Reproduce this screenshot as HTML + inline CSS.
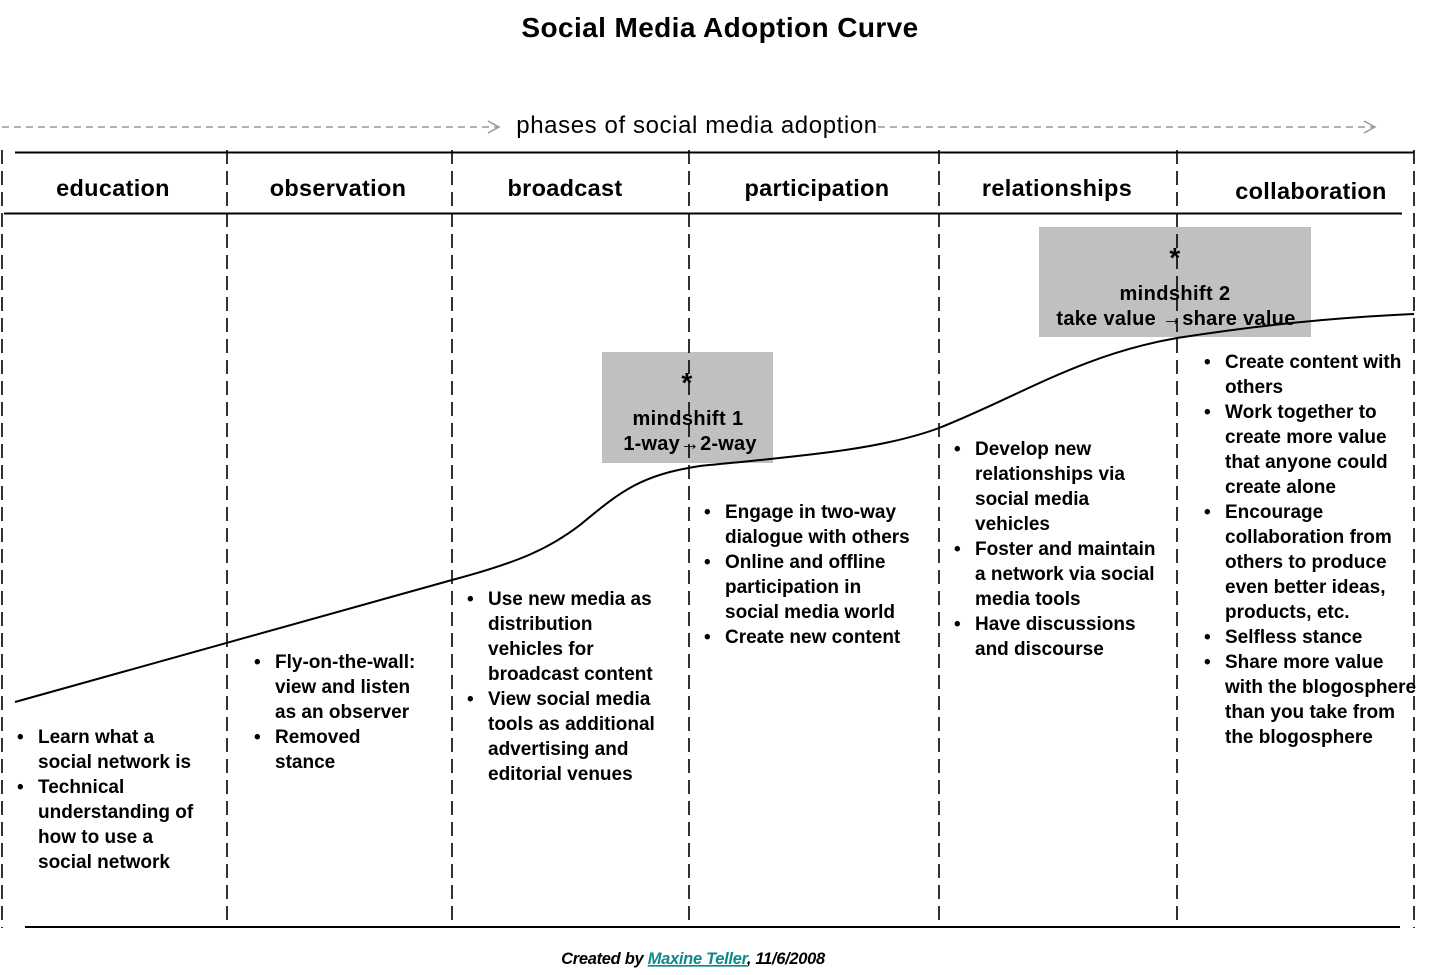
<!DOCTYPE html>
<html><head><meta charset="utf-8"><style>
html,body{margin:0;padding:0;background:#fff;}
svg{display:block;}
text{font-family:"Liberation Sans",Arial,sans-serif;font-weight:bold;fill:#000;}
.b{font-size:19px;letter-spacing:0px;}
.h{font-size:23.5px;letter-spacing:0.3px;text-anchor:middle;}
</style></head><body>
<svg width="1440" height="975" viewBox="0 0 1440 975" xmlns="http://www.w3.org/2000/svg">
<text x="720" y="37" class="h" style="font-size:28px;letter-spacing:0.4px">Social Media Adoption Curve</text>
<line x1="2" y1="127" x2="498" y2="127" stroke="#999" stroke-width="1.5" stroke-dasharray="7,5"/>
<polyline points="488,121 499,127 488,133" fill="none" stroke="#999" stroke-width="1.5"/>
<line x1="878" y1="127" x2="1374" y2="127" stroke="#999" stroke-width="1.5" stroke-dasharray="7,5"/>
<polyline points="1364,121 1375,127 1364,133" fill="none" stroke="#999" stroke-width="1.5"/>
<text x="697" y="133" class="h" style="font-weight:normal;font-size:24px;letter-spacing:0.6px">phases of social media adoption</text>
<rect x="602" y="352" width="171" height="111" fill="#c0c0c0"/>
<rect x="1039" y="227" width="272" height="110" fill="#c0c0c0"/>
<line x1="15" y1="152.5" x2="1414" y2="152.5" stroke="#000" stroke-width="2"/>
<line x1="4" y1="213.5" x2="1402" y2="213.5" stroke="#000" stroke-width="2"/>
<line x1="25" y1="927" x2="1400" y2="927" stroke="#000" stroke-width="2"/>
<g stroke="#000" stroke-width="1.6" stroke-dasharray="14,7">
<line x1="2" y1="150" x2="2" y2="928"/>
<line x1="227" y1="150" x2="227" y2="928"/>
<line x1="452" y1="150" x2="452" y2="928"/>
<line x1="689" y1="150" x2="689" y2="928"/>
<line x1="939" y1="150" x2="939" y2="928"/>
<line x1="1177" y1="150" x2="1177" y2="928"/>
<line x1="1414" y1="150" x2="1414" y2="928"/>
</g>
<text x="113" y="196" class="h">education</text>
<text x="338" y="196" class="h">observation</text>
<text x="565" y="196" class="h">broadcast</text>
<text x="817" y="196" class="h">participation</text>
<text x="1057" y="196" class="h">relationships</text>
<text x="1311" y="199" class="h">collaboration</text>
<path d="M15,702 L452,580 C520,562 550,548 580,525 C620,492 640,475 700,466 C800,456 880,450 939,428 C1020,396 1080,355 1177,338 C1260,325 1330,318 1414,314" fill="none" stroke="#000" stroke-width="2"/>
<text x="687" y="392" class="h" style="font-size:28px">*</text>
<text x="688" y="425" class="h" style="font-size:20px;letter-spacing:0.4px">mindshift 1</text>
<text x="690" y="450" class="h" style="font-size:20px;letter-spacing:0.2px">1-way→2-way</text>
<text x="1175" y="267" class="h" style="font-size:28px">*</text>
<text x="1175" y="300" class="h" style="font-size:20px;letter-spacing:0.4px">mindshift 2</text>
<text x="1176" y="325" class="h" style="font-size:20px;letter-spacing:0.3px">take value →share value</text>
<g class="b">
<text x="17" y="743">•</text><text x="38" y="743">Learn what a</text>
<text x="38" y="768">social network is</text>
<text x="17" y="793">•</text><text x="38" y="793">Technical</text>
<text x="38" y="818">understanding of</text>
<text x="38" y="843">how to use a</text>
<text x="38" y="868">social network</text>

<text x="254" y="668">•</text><text x="275" y="668">Fly-on-the-wall:</text>
<text x="275" y="693">view and listen</text>
<text x="275" y="718">as an observer</text>
<text x="254" y="743">•</text><text x="275" y="743">Removed</text>
<text x="275" y="768">stance</text>

<text x="467" y="605">•</text><text x="488" y="605">Use new media as</text>
<text x="488" y="630">distribution</text>
<text x="488" y="655">vehicles for</text>
<text x="488" y="680">broadcast content</text>
<text x="467" y="705">•</text><text x="488" y="705">View social media</text>
<text x="488" y="730">tools as additional</text>
<text x="488" y="755">advertising and</text>
<text x="488" y="780">editorial venues</text>

<text x="704" y="518">•</text><text x="725" y="518">Engage in two-way</text>
<text x="725" y="543">dialogue with others</text>
<text x="704" y="568">•</text><text x="725" y="568">Online and offline</text>
<text x="725" y="593">participation in</text>
<text x="725" y="618">social media world</text>
<text x="704" y="643">•</text><text x="725" y="643">Create new content</text>

<text x="954" y="455">•</text><text x="975" y="455">Develop new</text>
<text x="975" y="480">relationships via</text>
<text x="975" y="505">social media</text>
<text x="975" y="530">vehicles</text>
<text x="954" y="555">•</text><text x="975" y="555">Foster and maintain</text>
<text x="975" y="580">a network via social</text>
<text x="975" y="605">media tools</text>
<text x="954" y="630">•</text><text x="975" y="630">Have discussions</text>
<text x="975" y="655">and discourse</text>

<text x="1204" y="368">•</text><text x="1225" y="368">Create content with</text>
<text x="1225" y="393">others</text>
<text x="1204" y="418">•</text><text x="1225" y="418">Work together to</text>
<text x="1225" y="443">create more value</text>
<text x="1225" y="468">that anyone could</text>
<text x="1225" y="493">create alone</text>
<text x="1204" y="518">•</text><text x="1225" y="518">Encourage</text>
<text x="1225" y="543">collaboration from</text>
<text x="1225" y="568">others to produce</text>
<text x="1225" y="593">even better ideas,</text>
<text x="1225" y="618">products, etc.</text>
<text x="1204" y="643">•</text><text x="1225" y="643">Selfless stance</text>
<text x="1204" y="668">•</text><text x="1225" y="668">Share more value</text>
<text x="1225" y="693">with the blogosphere</text>
<text x="1225" y="718">than you take from</text>
<text x="1225" y="743">the blogosphere</text>
</g>
<text x="693" y="964" style="font-size:16.5px;font-style:italic;text-anchor:middle;letter-spacing:-0.3px">Created by <tspan text-decoration="underline" style="fill:#0a8a8a">Maxine Teller</tspan>, 11/6/2008</text>
</svg>
</body></html>
